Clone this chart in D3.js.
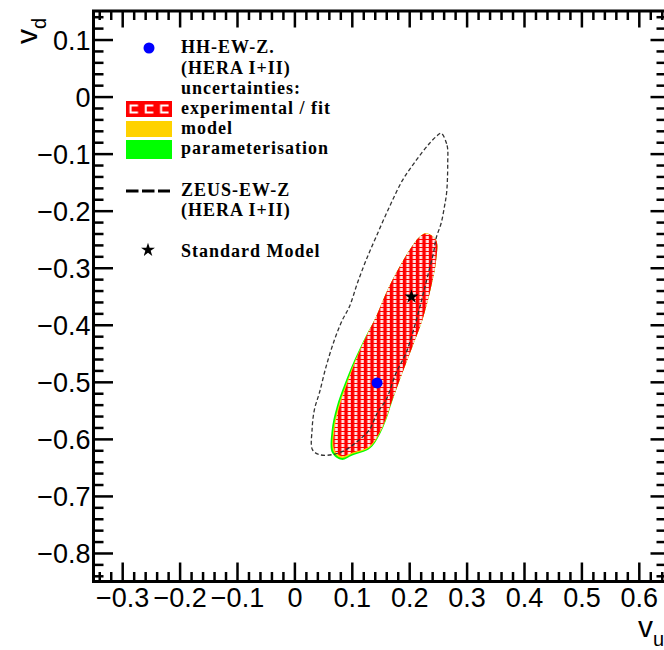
<!DOCTYPE html>
<html><head><meta charset="utf-8">
<script src="https://cdn.jsdelivr.net/npm/d3@7"></script>
<style>body{margin:0;background:#fff;} svg{display:block;}</style>
</head><body>
<script>
// ---- data ----
const vuTicks = [-0.3,-0.2,-0.1,0,0.1,0.2,0.3,0.4,0.5,0.6];
const vuTickLabels = ["\u22120.3","\u22120.2","\u22120.1","0","0.1","0.2","0.3","0.4","0.5","0.6"];
const vdTicks = [0.1,0,-0.1,-0.2,-0.3,-0.4,-0.5,-0.6,-0.7,-0.8];
const vdTickLabels = ["0.1","0","\u22120.1","\u22120.2","\u22120.3","\u22120.4","\u22120.5","\u22120.6","\u22120.7","\u22120.8"];

// ZEUS-EW-Z contour
const zeusVu = [0.2556,0.2660,0.2671,0.2653,0.2613,0.2556,0.2469,0.2422,0.2317,0.2230,0.2091,0.1946,0.1772,0.1598,0.1446,0.1307,0.1132,0.0901,0.0662,0.0436,0.0314,0.0308,0.0348,0.0436,0.0552,0.0697,0.0836,0.0958,0.1098,0.1249,0.1423,0.1655,0.1882,0.2120,0.2352,0.2491];
const zeusVd = [-0.0642,-0.0857,-0.1171,-0.1673,-0.1935,-0.2220,-0.2483,-0.2745,-0.3164,-0.3514,-0.4038,-0.4493,-0.4843,-0.5315,-0.5542,-0.5839,-0.6014,-0.6189,-0.6276,-0.6276,-0.6189,-0.5839,-0.5490,-0.5192,-0.4733,-0.4266,-0.3916,-0.3684,-0.3269,-0.2867,-0.2460,-0.1935,-0.1469,-0.1119,-0.0822,-0.0682];

// HH-EW-Z experimental / fit contour
const expVu = [0.2294,0.2469,0.2469,0.2382,0.2230,0.2056,0.1882,0.1707,0.1533,0.1307,0.1010,0.0836,0.0697,0.0697,0.0784,0.0901,0.1075,0.1249,0.1423,0.1598,0.1772,0.2003,0.2178];
const expVd = [-0.2400,-0.2517,-0.2867,-0.3334,-0.3916,-0.4383,-0.4843,-0.5315,-0.5787,-0.6131,-0.6241,-0.6306,-0.6189,-0.5839,-0.5432,-0.5082,-0.4615,-0.4208,-0.3858,-0.3444,-0.3094,-0.2692,-0.2460];
// + model
const modelVu = [0.2298,0.2469,0.2469,0.2382,0.2230,0.2056,0.1882,0.1707,0.1538,0.1312,0.1010,0.0828,0.0680,0.0678,0.0764,0.0886,0.1065,0.1246,0.1423,0.1598,0.1772,0.2003,0.2178];
const modelVd = [-0.2392,-0.2517,-0.2867,-0.3334,-0.3916,-0.4383,-0.4843,-0.5315,-0.5795,-0.6145,-0.6262,-0.6335,-0.6215,-0.5848,-0.5436,-0.5080,-0.4612,-0.4208,-0.3858,-0.3444,-0.3094,-0.2692,-0.2460];
// + parameterisation
const paramVu = [0.2294,0.2469,0.2469,0.2382,0.2230,0.2056,0.1882,0.1712,0.1545,0.1320,0.1010,0.0820,0.0655,0.0648,0.0735,0.0860,0.1050,0.1240,0.1423,0.1598,0.1772,0.2003,0.2178];
const paramVd = [-0.2400,-0.2517,-0.2867,-0.3334,-0.3916,-0.4383,-0.4843,-0.5320,-0.5805,-0.6165,-0.6290,-0.6368,-0.6245,-0.5858,-0.5440,-0.5075,-0.4605,-0.4205,-0.3858,-0.3444,-0.3094,-0.2692,-0.2460];

const hhPoint = [0.144, -0.502];
const smPoint = [0.204, -0.351];

const legendLabels = ["HH-EW-Z.","(HERA I+II)","uncertainties:","experimental / fit","model","parameterisation","ZEUS-EW-Z","(HERA I+II)","Standard Model"];

// ---- chart ----
const W = 664, H = 650;
const svg = d3.select("body").append("svg").attr("width", W).attr("height", H);
const x = d3.scaleLinear().domain([-0.35, 0.65]).range([93.5, 667.5]);
const y = d3.scaleLinear().domain([-0.85, 0.15]).range([581.5, 11]);

const defs = svg.append("defs");
defs.append("clipPath").attr("id","plotclip").append("rect")
  .attr("x", x(-0.35)).attr("y", y(0.15)).attr("width", x(0.65)-x(-0.35)).attr("height", y(-0.85)-y(0.15));
const pat = defs.append("pattern").attr("id","hatch").attr("patternUnits","userSpaceOnUse")
  .attr("width",6.5).attr("height",4);
pat.append("rect").attr("width",6.5).attr("height",4).attr("fill","#ff0000");
pat.append("rect").attr("x",3.3).attr("y",0).attr("width",3).attr("height",3).attr("fill","#ffffff").attr("opacity",0.9);

const lp = defs.append("pattern").attr("id","lhatch").attr("patternUnits","userSpaceOnUse")
  .attr("x",126).attr("y",101).attr("width",15.3).attr("height",16);
lp.append("rect").attr("width",15.3).attr("height",16).attr("fill","#ff0000");
lp.append("path").attr("d","M12,4.5 H4.5 V11.5 H12").attr("fill","none").attr("stroke","#fff").attr("stroke-width",2);

const plot = svg.append("g").attr("clip-path","url(#plotclip)");
const line = d3.line().x(d=>x(d[0])).y(d=>y(d[1])).curve(d3.curveCatmullRomClosed.alpha(0.5));
const zip = (a,b) => a.map((v,i)=>[v,b[i]]);

plot.append("path").attr("d", line(zip(paramVu,paramVd))).attr("fill","#00ff00");
plot.append("path").attr("d", line(zip(modelVu,modelVd))).attr("fill","#ffd200");
plot.append("path").attr("d", line(zip(expVu,expVd))).attr("fill","url(#hatch)");
plot.append("path").attr("d", line(zip(zeusVu,zeusVd))).attr("fill","none")
  .attr("stroke","#333").attr("stroke-width",1.3).attr("stroke-dasharray","4,2.5");
plot.append("path").attr("d", d3.symbol(d3.symbolStar, 60)())
  .attr("transform",`translate(${x(smPoint[0])},${y(smPoint[1])})`).attr("fill","#000");
plot.append("circle").attr("cx", x(hhPoint[0])).attr("cy", y(hhPoint[1])).attr("r",5.5).attr("fill","#0000ff");

// ---- axes ----
const xMinor = d3.range(-17,33).filter(i=>i%5!==0).map(i=>i/50);
const yMinor = d3.range(-42,8).filter(i=>i%5!==0).map(i=>i/50);
function styleAxis(g){
  g.select(".domain").remove();
  g.selectAll("line").attr("stroke","#000").attr("stroke-width",2.5);
  g.selectAll("text").attr("font-family","'Liberation Sans', Arial, sans-serif").attr("font-size",27).attr("fill","#000");
}
svg.append("g").attr("transform","translate(0,581.5)")
  .call(d3.axisBottom(x).tickValues(vuTicks).tickFormat((d,i)=>vuTickLabels[i]).tickSizeInner(-19).tickSizeOuter(0).tickPadding(6)).call(styleAxis);
svg.append("g").attr("transform","translate(0,581.5)")
  .call(d3.axisBottom(x).tickValues(xMinor).tickFormat("").tickSizeInner(-9.5).tickSizeOuter(0)).call(styleAxis);
svg.append("g").attr("transform","translate(0,11)")
  .call(d3.axisTop(x).tickValues(vuTicks).tickFormat("").tickSizeInner(-16.5).tickSizeOuter(0)).call(styleAxis);
svg.append("g").attr("transform","translate(0,11)")
  .call(d3.axisTop(x).tickValues(xMinor).tickFormat("").tickSizeInner(-9).tickSizeOuter(0)).call(styleAxis);
const la = svg.append("g").attr("transform","translate(93.5,0)")
  .call(d3.axisLeft(y).tickValues(vdTicks).tickFormat((d,i)=>vdTickLabels[i]).tickSizeInner(-19.5).tickSizeOuter(0).tickPadding(3)).call(styleAxis);
la.selectAll("text").attr("dy","0.36em");
svg.append("g").attr("transform","translate(93.5,0)")
  .call(d3.axisLeft(y).tickValues(yMinor).tickFormat("").tickSizeInner(-10).tickSizeOuter(0)).call(styleAxis);
svg.append("g").attr("transform","translate(667.5,0)")
  .call(d3.axisRight(y).tickValues(vdTicks).tickFormat("").tickSizeInner(-17).tickSizeOuter(0)).call(styleAxis);
svg.append("g").attr("transform","translate(667.5,0)")
  .call(d3.axisRight(y).tickValues(yMinor).tickFormat("").tickSizeInner(-11).tickSizeOuter(0)).call(styleAxis);

// frame
svg.append("rect").attr("x", x(-0.35)).attr("y", y(0.15)).attr("width", x(0.65)-x(-0.35)).attr("height", y(-0.85)-y(0.15))
  .attr("fill","none").attr("stroke","#000").attr("stroke-width",3);

// axis titles
const tf = "'Liberation Sans', Arial, sans-serif";
const xt = svg.append("text").attr("x",638).attr("y",637).attr("font-family",tf).attr("font-size",30).attr("fill","#000");
xt.append("tspan").text("v");
xt.append("tspan").attr("dy",9).attr("font-size",20).text("u");
const yt = svg.append("text").attr("transform","translate(37,44) rotate(-90)").attr("font-family",tf).attr("font-size",30).attr("fill","#000");
yt.append("tspan").text("v");
yt.append("tspan").attr("dy",9).attr("font-size",20).text("d");

// ---- legend ----
const lg = svg.append("g");
const lf = "'Liberation Serif', 'Times New Roman', serif";
const baselines = [53,74,94,114,134,154,196,216,257];
lg.selectAll("text.leg").data(legendLabels).enter().append("text").attr("class","leg")
  .attr("x",181).attr("y",(d,i)=>baselines[i]).attr("font-family",lf).attr("font-weight","bold")
  .attr("font-size",18).attr("letter-spacing",1).attr("fill","#000").text(d=>d);
lg.append("circle").attr("cx",149).attr("cy",48).attr("r",5.5).attr("fill","#0000ff");
lg.append("rect").attr("x",126).attr("y",101).attr("width",46).attr("height",16).attr("fill","url(#lhatch)");
lg.append("rect").attr("x",126).attr("y",121).attr("width",46).attr("height",16).attr("fill","#ffd200");
lg.append("rect").attr("x",126).attr("y",140).attr("width",46).attr("height",19).attr("fill","#00ff00");
lg.append("line").attr("x1",126).attr("x2",170).attr("y1",191).attr("y2",191)
  .attr("stroke","#000").attr("stroke-width",3).attr("stroke-dasharray","12.5,3.5");
lg.append("path").attr("d", d3.symbol(d3.symbolStar, 60)()).attr("transform","translate(148,250)").attr("fill","#000");
</script>
</body></html>
